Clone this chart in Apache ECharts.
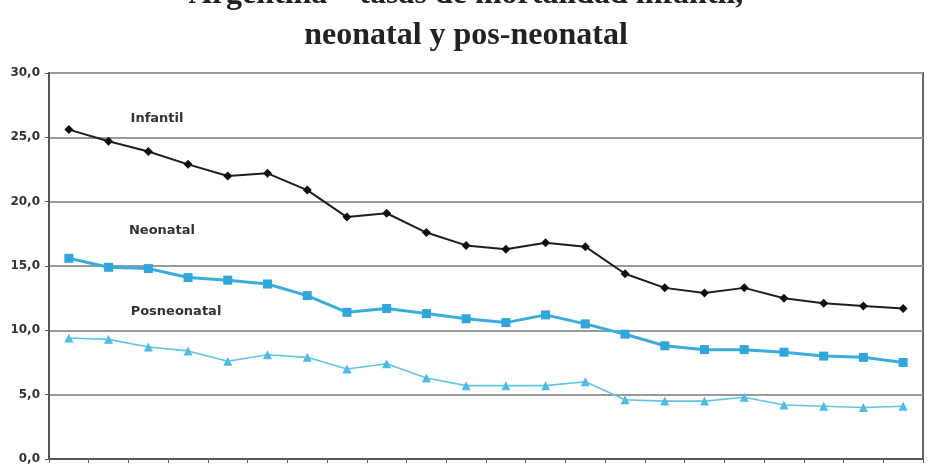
<!DOCTYPE html>
<html>
<head>
<meta charset="utf-8">
<script src="https://cdn.jsdelivr.net/npm/echarts@6/dist/echarts.min.js"></script>
<style>
  html, body { margin: 0; padding: 0; background: #fff; }
  #chart { width: 932px; height: 472px; }
</style>
</head>
<body>
<div id="chart"></div>
<script>
const years = ['1990', '1991', '1992', '1993', '1994', '1995', '1996', '1997', '1998', '1999', '2000',
  '2001', '2002', '2003', '2004', '2005', '2006', '2007', '2008', '2009', '2010', '2011'];
const infantil = [25.6, 24.7, 23.9, 22.9, 22.0, 22.2, 20.9, 18.8, 19.1, 17.6, 16.6,
  16.3, 16.8, 16.5, 14.4, 13.3, 12.9, 13.3, 12.5, 12.1, 11.9, 11.7];
const neonatal = [15.6, 14.9, 14.8, 14.1, 13.9, 13.6, 12.7, 11.4, 11.7, 11.3, 10.9,
  10.6, 11.2, 10.5, 9.7, 8.8, 8.5, 8.5, 8.3, 8.0, 7.9, 7.5];
const posneonatal = [9.4, 9.3, 8.7, 8.4, 7.6, 8.1, 7.9, 7.0, 7.4, 6.3, 5.7,
  5.7, 5.7, 6.0, 4.6, 4.5, 4.5, 4.8, 4.2, 4.1, 4.0, 4.1];
const seriesNames = ['Infantil', 'Neonatal', 'Posneonatal'];

const chart = echarts.init(document.getElementById('chart'));

const labelStyle = {
  fill: '#333',
  font: 'bold 13px "DejaVu Sans"',
  textAlign: 'center',
  textVerticalAlign: 'middle',
};

const option = {
  animation: false,
  backgroundColor: '#fff',
  // first title line sits mostly above the top edge, as in the scan
  title: {
    text: 'Argentina – tasas de mortalidad infantil,\nneonatal y pos-neonatal',
    left: 'center',
    top: -31,
    textStyle: {
      fontFamily: '"Liberation Serif"',
      fontWeight: 'bold',
      fontSize: 32,
      lineHeight: 41,
      color: '#222',
    },
  },
  grid: {
    left: 49,
    right: 9,
    top: 73,
    bottom: 13,
    show: true,
    borderColor: '#666',
    borderWidth: 2,
  },
  xAxis: {
    type: 'category',
    data: years,
    boundaryGap: true,
    axisLine: { lineStyle: { color: '#555', width: 2 } },
    axisTick: { show: true, length: 4, lineStyle: { color: '#666', width: 1 } },
    axisLabel: { show: false },
    splitLine: { show: false },
  },
  yAxis: {
    type: 'value',
    min: 0,
    max: 30,
    interval: 5,
    axisLine: { show: true, lineStyle: { color: '#555', width: 2 } },
    axisTick: { show: true, length: 4, lineStyle: { color: '#555', width: 1 } },
    axisLabel: {
      color: '#333',
      fontFamily: '"DejaVu Sans"',
      fontWeight: 'bold',
      fontSize: 12,
      margin: 9,
      formatter: (v) => v.toFixed(1).replace('.', ','),
    },
    splitLine: { lineStyle: { color: '#9a9a9a', width: 2 } },
  },
  series: [
    {
      name: seriesNames[0],
      type: 'line',
      data: infantil,
      symbol: 'diamond',
      symbolSize: 9,
      lineStyle: { color: '#1e1e1e', width: 2 },
      itemStyle: { color: '#111' },
    },
    {
      name: seriesNames[1],
      type: 'line',
      data: neonatal,
      symbol: 'rect',
      symbolSize: 9,
      lineStyle: { color: '#3aaddf', width: 3 },
      itemStyle: { color: '#2fa6dc' },
    },
    {
      name: seriesNames[2],
      type: 'line',
      data: posneonatal,
      symbol: 'triangle',
      symbolSize: 9,
      lineStyle: { color: '#62c4e9', width: 1.6 },
      itemStyle: { color: '#4bbde6' },
    },
  ],
  graphic: [
    { type: 'text', x: 157, y: 119, style: Object.assign({ text: seriesNames[0] }, labelStyle) },
    { type: 'text', x: 162, y: 231, style: Object.assign({ text: seriesNames[1] }, labelStyle) },
    { type: 'text', x: 176, y: 312, style: Object.assign({ text: seriesNames[2] }, labelStyle) },
  ],
};

chart.setOption(option);
</script>
</body>
</html>
